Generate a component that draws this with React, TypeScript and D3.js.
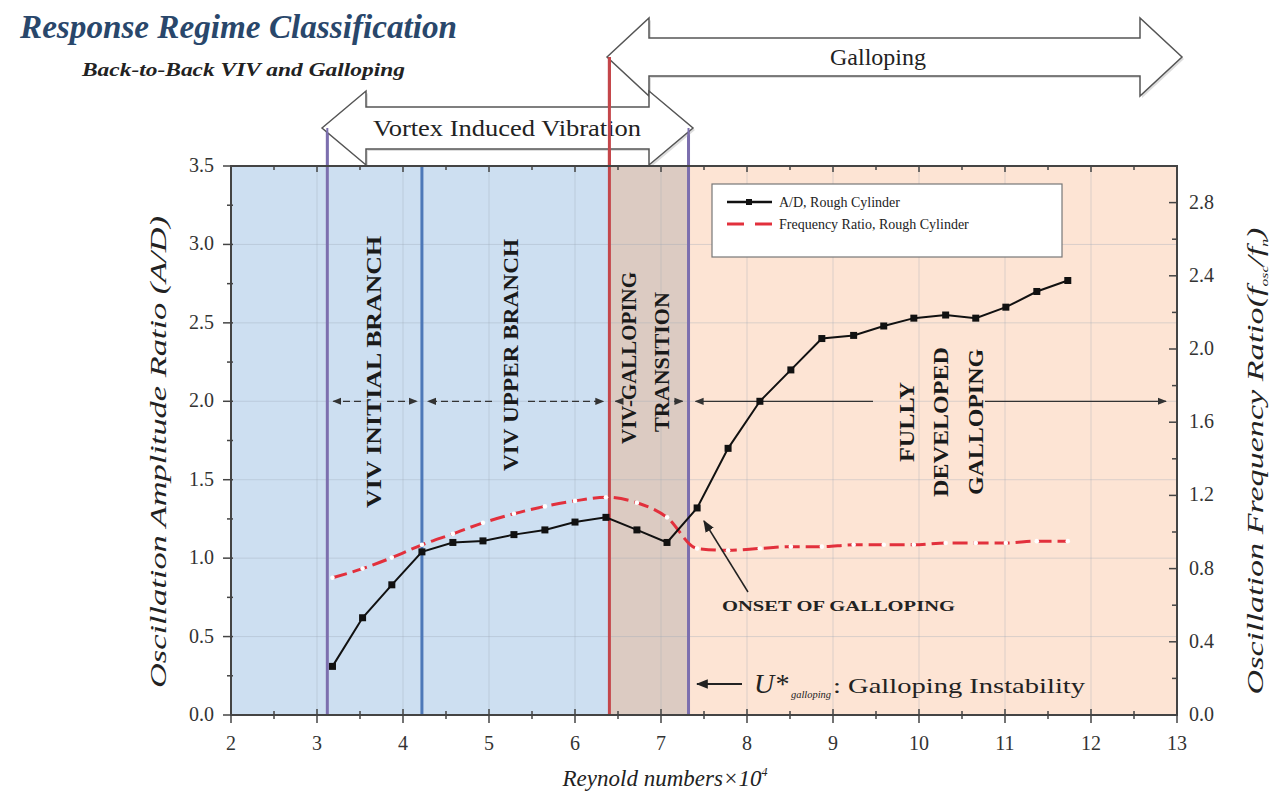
import React from "react";
import * as d3 from "d3";

// ---- data ----
const reynolds = [3.18, 3.53, 3.87, 4.22, 4.58, 4.93, 5.29, 5.65, 6.0, 6.36, 6.72, 7.07, 7.42, 7.78, 8.15, 8.51, 8.87, 9.24, 9.59, 9.94, 10.31, 10.66, 11.01, 11.37, 11.73];
const amplitude = [0.31, 0.62, 0.83, 1.04, 1.1, 1.11, 1.15, 1.18, 1.23, 1.26, 1.18, 1.1, 1.32, 1.7, 2.0, 2.2, 2.4, 2.42, 2.48, 2.53, 2.55, 2.53, 2.6, 2.7, 2.77];
const freqRatio = [0.75, 0.8, 0.86, 0.93, 0.99, 1.05, 1.1, 1.14, 1.17, 1.19, 1.16, 1.08, 0.91, 0.9, 0.91, 0.92, 0.92, 0.93, 0.93, 0.93, 0.94, 0.94, 0.94, 0.95, 0.95];
const xTicks = [2, 3, 4, 5, 6, 7, 8, 9, 10, 11, 12, 13];
const yLeftTicks = [0, 0.5, 1.0, 1.5, 2.0, 2.5, 3.0, 3.5];
const yRightTicks = [0, 0.4, 0.8, 1.2, 1.6, 2.0, 2.4, 2.8];
const regimeBounds = [2, 6.4, 7.32, 13];
const regimeColors = ["#cddff1", "#dccbc2", "#fde4d4"];
const boundaryLines = [
  { x: 3.12, color: "#7c6fae", top: 128 },
  { x: 4.22, color: "#4d78b8", top: 166 },
  { x: 6.4, color: "#c4464a", top: 57 },
  { x: 7.32, color: "#7c6fae", top: 128 },
];

const W = 1279, H = 792;
const x = d3.scaleLinear().domain([2, 13]).range([231, 1177]);
const yL = d3.scaleLinear().domain([0, 3.5]).range([715, 166]);
const yR = d3.scaleLinear().domain([0, 3.0]).range([715, 166]);
const serif = "'Liberation Serif', 'Times New Roman', Times, serif";

function blockArrow(x1: number, x2: number, yc: number, hl: number, hh: number, sh: number) {
  const p = d3.path();
  p.moveTo(x1, yc);
  p.lineTo(x1 + hl, yc - hh);
  p.lineTo(x1 + hl, yc - sh);
  p.lineTo(x2 - hl, yc - sh);
  p.lineTo(x2 - hl, yc - hh);
  p.lineTo(x2, yc);
  p.lineTo(x2 - hl, yc + hh);
  p.lineTo(x2 - hl, yc + sh);
  p.lineTo(x1 + hl, yc + sh);
  p.lineTo(x1 + hl, yc + hh);
  p.closePath();
  return p.toString();
}

export default function App() {
  const ampPts = reynolds.map((r, i) => [x(r), yL(amplitude[i])] as [number, number]);
  const frqPts = reynolds.map((r, i) => [x(r), yR(freqRatio[i])] as [number, number]);
  const ampLine = d3.line().curve(d3.curveLinear)(ampPts) || "";
  const frqLine = d3.line().curve(d3.curveMonotoneX)(frqPts) || "";
  const xMinor = d3.range(2, 13.01, 0.5);
  const yLMinor = d3.range(0, 3.51, 0.25);
  const yRMinor = d3.range(0, 3.0, 0.2);
  const yArrow = yL(2.0);

  const dashSegs = [
    { l: x(3.12) + 6, r: x(4.22) - 5, g1: 361, g2: 387, dash: "7,4" },
    { l: x(4.22) + 6, r: x(6.4) - 6, g1: 492, g2: 528, dash: "7,4" },
    { l: x(6.4) + 6, r: x(7.32) - 6, g1: 620, g2: 674, dash: "" },
    { l: x(7.32) + 7, r: 1166, g1: 873, g2: 985, dash: "" },
  ];

  return (
    <svg width={W} height={H} style={{ position: "absolute", left: 0, top: 0, background: "#fff", fontFamily: serif }} fontFamily={serif}>
      <defs>
        <marker id="ah" viewBox="0 0 10 10" refX="9" refY="5" markerWidth="9" markerHeight="9" orient="auto" markerUnits="userSpaceOnUse">
          <path d="M0,1 L10,5 L0,9 Z" fill="#333" />
        </marker>
        <marker id="ah2" viewBox="0 0 10 10" refX="9" refY="5" markerWidth="12" markerHeight="12" orient="auto" markerUnits="userSpaceOnUse">
          <path d="M0,1 L10,5 L0,9 Z" fill="#222" />
        </marker>
      </defs>

      {/* title */}
      <text x={20} y={38} fontSize={33} fontWeight="bold" fontStyle="italic" fill="#29476b" textLength={437} lengthAdjust="spacingAndGlyphs">Response Regime Classification</text>
      <text x={82} y={76} fontSize={19} fontWeight="bold" fontStyle="italic" fill="#222" textLength={323} lengthAdjust="spacingAndGlyphs">Back-to-Back VIV and Galloping</text>

      {/* regime backgrounds */}
      {regimeColors.map((c, i) => (
        <rect key={i} x={x(regimeBounds[i])} y={yL(3.5)} width={x(regimeBounds[i + 1]) - x(regimeBounds[i])} height={yL(0) - yL(3.5)} fill={c} />
      ))}

      {/* grid */}
      {xTicks.slice(1, -1).map((t) => (
        <line key={"gx" + t} x1={x(t)} x2={x(t)} y1={yL(3.5)} y2={yL(0)} stroke="#9aa6b4" strokeOpacity={0.35} strokeWidth={1} />
      ))}
      {yLeftTicks.slice(1, -1).map((t) => (
        <line key={"gy" + t} x1={x(2)} x2={x(13)} y1={yL(t)} y2={yL(t)} stroke="#9aa6b4" strokeOpacity={0.35} strokeWidth={1} />
      ))}

      {/* block arrows */}
      <path d={blockArrow(609, 1184, 59, 42, 39, 19)} fill="#bbb" opacity={0.5} />
      <path d={blockArrow(607, 1182, 57, 42, 39, 19)} fill="#fff" stroke="#555" strokeWidth={1.5} />
      <text x={878} y={65} fontSize={24} textAnchor="middle" fill="#222">Galloping</text>

      {/* boundary lines */}
      {boundaryLines.map((b, i) => (
        <line key={"b" + i} x1={x(b.x)} x2={x(b.x)} y1={b.top} y2={yL(0)} stroke={b.color} strokeWidth={3} />
      ))}

      <path d={blockArrow(324, 695, 130, 44, 37, 21)} fill="#bbb" opacity={0.5} />
      <path d={blockArrow(322, 693, 128, 44, 37, 21)} fill="#fff" stroke="#555" strokeWidth={1.5} />
      <text x={507} y={136} fontSize={24} textAnchor="middle" fill="#222" textLength={268} lengthAdjust="spacingAndGlyphs">Vortex Induced Vibration</text>
      <line x1={x(3.12)} x2={x(3.12)} y1={128} y2={166} stroke="#7c6fae" strokeWidth={2} />
      <line x1={x(7.32)} x2={x(7.32)} y1={128} y2={166} stroke="#7c6fae" strokeWidth={2} />
      <line x1={x(6.4)} x2={x(6.4)} y1={57} y2={166} stroke="#c4464a" strokeWidth={3} />

      {/* horizontal region arrows */}
      {dashSegs.map((s, i) => (
        <g key={"ds" + i}>
          <line x1={s.g1} x2={s.l} y1={yArrow} y2={yArrow} stroke="#333" strokeWidth={1.3} strokeDasharray={s.dash} markerEnd="url(#ah)" />
          <line x1={s.g2} x2={s.r} y1={yArrow} y2={yArrow} stroke="#333" strokeWidth={1.3} strokeDasharray={s.dash} markerEnd="url(#ah)" />
        </g>
      ))}

      {/* region labels */}
      <g fontWeight="bold" fill="#1a1a1a" fontSize={21}>
        <text transform={`translate(381,372) rotate(-90)`} textAnchor="middle" textLength={272} lengthAdjust="spacingAndGlyphs">VIV INITIAL BRANCH</text>
        <text transform={`translate(518,355) rotate(-90)`} textAnchor="middle" textLength={232} lengthAdjust="spacingAndGlyphs">VIV UPPER BRANCH</text>
        <text transform={`translate(636,358) rotate(-90)`} textAnchor="middle" textLength={172} lengthAdjust="spacingAndGlyphs">VIV-GALLOPING</text>
        <text transform={`translate(669,362) rotate(-90)`} textAnchor="middle" textLength={140} lengthAdjust="spacingAndGlyphs">TRANSITION</text>
        <text transform={`translate(914,422) rotate(-90)`} textAnchor="middle" textLength={80} lengthAdjust="spacingAndGlyphs">FULLY</text>
        <text transform={`translate(948,422) rotate(-90)`} textAnchor="middle" textLength={150} lengthAdjust="spacingAndGlyphs">DEVELOPED</text>
        <text transform={`translate(983,422) rotate(-90)`} textAnchor="middle" textLength={146} lengthAdjust="spacingAndGlyphs">GALLOPING</text>
      </g>

      {/* series */}
      <path d={frqLine} fill="none" stroke="#e2303c" strokeWidth={3} strokeDasharray="15,6" />
      {frqPts.map((p, i) => (
        <circle key={"fc" + i} cx={p[0]} cy={p[1]} r={2.3} fill="#fff" />
      ))}
      <path d={ampLine} fill="none" stroke="#111" strokeWidth={2} />
      {ampPts.map((p, i) => (
        <rect key={"as" + i} x={p[0] - 3.5} y={p[1] - 3.5} width={7} height={7} fill="#111" />
      ))}

      {/* onset annotation */}
      <line x1={748} y1={592} x2={704} y2={521} stroke="#222" strokeWidth={1.5} markerEnd="url(#ah2)" />
      <text x={722} y={611} fontSize={14} fontWeight="bold" fill="#222" textLength={233} lengthAdjust="spacingAndGlyphs">ONSET OF GALLOPING</text>

      {/* U* annotation */}
      <line x1={742} y1={684} x2={697} y2={684} stroke="#222" strokeWidth={2} markerEnd="url(#ah2)" />
      <text x={754} y={693} fontSize={28} fontStyle="italic" fill="#222">U*</text>
      <text x={791} y={698} fontSize={10} fontStyle="italic" fill="#222" textLength={40} lengthAdjust="spacingAndGlyphs">galloping</text>
      <text x={833} y={693} fontSize={21} fill="#222" textLength={252} lengthAdjust="spacingAndGlyphs">: Galloping Instability</text>

      {/* legend */}
      <rect x={712} y={184} width={350} height={73} fill="#fff" stroke="#777" strokeWidth={1.2} />
      <line x1={727} x2={772} y1={202} y2={202} stroke="#111" strokeWidth={2.5} />
      <rect x={746} y={199} width={6} height={6} fill="#111" />
      <text x={779} y={207} fontSize={14} fill="#222">A/D, Rough Cylinder</text>
      <line x1={727} x2={772} y1={224} y2={224} stroke="#e2303c" strokeWidth={3} strokeDasharray="17,11" />
      <circle cx={749.5} cy={224} r={2.5} fill="#fff" />
      <text x={779} y={229} fontSize={14} fill="#222">Frequency Ratio, Rough Cylinder</text>

      {/* frame */}
      <rect x={x(2)} y={yL(3.5)} width={x(13) - x(2)} height={yL(0) - yL(3.5)} fill="none" stroke="#444" strokeWidth={2} />

      {/* bottom axis ticks */}
      {xMinor.map((t) => {
        const major = Math.abs(t - Math.round(t)) < 1e-6;
        return <line key={"xt" + t} x1={x(t)} x2={x(t)} y1={yL(0) - (major ? 6 : 4)} y2={yL(0) + (major ? 8 : 4)} stroke="#444" strokeWidth={1.5} />;
      })}
      {xTicks.map((t) => (
        <text key={"xl" + t} x={x(t)} y={750} fontSize={20} textAnchor="middle" fill="#333">{t}</text>
      ))}
      {xMinor.map((t) => (
        <line key={"xtt" + t} x1={x(t)} x2={x(t)} y1={yL(3.5)} y2={yL(3.5) + (Math.abs(t - Math.round(t)) < 1e-6 ? 6 : 4)} stroke="#444" strokeWidth={1.5} />
      ))}

      {/* left axis */}
      {yLMinor.map((t) => {
        const major = Math.abs(t * 2 - Math.round(t * 2)) < 1e-6;
        return <line key={"yt" + t} x1={x(2) - (major ? 8 : 4)} x2={x(2) + 2} y1={yL(t)} y2={yL(t)} stroke="#444" strokeWidth={1.5} />;
      })}
      {yLeftTicks.map((t) => (
        <text key={"yl" + t} x={214} y={yL(t) + 6} fontSize={20} textAnchor="end" fill="#333">{t.toFixed(1)}</text>
      ))}

      {/* right axis */}
      {yRMinor.map((t) => {
        const major = Math.abs(t / 0.4 - Math.round(t / 0.4)) < 1e-6;
        return <line key={"rt" + t} x1={x(13) - (major ? 8 : 5)} x2={x(13) + 1} y1={yR(t)} y2={yR(t)} stroke="#444" strokeWidth={1.5} />;
      })}
      {yRightTicks.map((t) => (
        <text key={"rl" + t} x={1189} y={yR(t) + 6} fontSize={20} fill="#333">{t.toFixed(1)}</text>
      ))}

      {/* axis titles */}
      <text transform="translate(166,452) rotate(-90)" fontSize={24} fontStyle="italic" textAnchor="middle" fill="#222" textLength={472} lengthAdjust="spacingAndGlyphs">Oscillation Amplitude Ratio (A/D)</text>
      <text transform="translate(1263,461) rotate(-90)" fontSize={24} fontStyle="italic" textAnchor="middle" fill="#222" textLength={467} lengthAdjust="spacingAndGlyphs">
        Oscillation Frequency Ratio(f<tspan fontSize={11} dy={5}>osc</tspan><tspan dy={-5}>/f</tspan><tspan fontSize={11} dy={5}>n</tspan><tspan dy={-5}>)</tspan>
      </text>
      <text x={665} y={786} fontSize={23} fontStyle="italic" textAnchor="middle" fill="#222">
        Reynold numbers×10<tspan fontSize={12} dy={-10}>4</tspan>
      </text>
    </svg>
  );
}
